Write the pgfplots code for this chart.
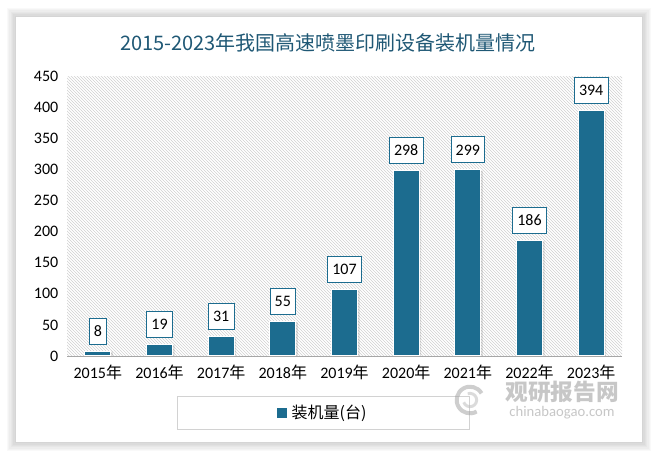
\documentclass[border=0pt]{standalone}
\usepackage{fontspec}
\setmainfont{Carlito}
\newfontfamily\cjk{Noto Sans CJK SC}
\usepackage{pgfplots}
\pgfplotsset{compat=1.18}
\usetikzlibrary{patterns.meta}
\definecolor{barblue}{RGB}{28,108,143}
\definecolor{titleblue}{RGB}{31,88,117}
\definecolor{hatch}{RGB}{208,208,208}

\begin{document}
\begin{tikzpicture}
\path[use as bounding box] (0,0) rectangle (494.25pt,-343.5pt);
\fill[white] (0,0) rectangle (494.25pt,-343.5pt);

% card with soft shadow
\foreach \d in {1,...,7}{
  \fill[black,opacity=0.022] (12pt-\d pt,-12.75pt+\d pt) rectangle (481.5pt+\d pt,-331.5pt-\d pt);
}
\fill[white] (12pt,-12.75pt) rectangle (481.5pt,-331.5pt);

% title
\node[font=\cjk\fontsize{15}{15}\selectfont, text=titleblue] at (246pt,-32.25pt)
  {2015-2023年我国高速喷墨印刷设备装机量情况};

\begin{axis}[
    at={(50.25pt,-267pt)}, anchor=south west,
    scale only axis,
    width=416.25pt, height=210pt,
    xmin=-0.5, xmax=8.5,
    ymin=0, ymax=450,
    ytick={0,50,...,450},
    xtick={0,...,8},
    xticklabels={2015{\cjk 年},2016{\cjk 年},2017{\cjk 年},2018{\cjk 年},2019{\cjk 年},
                 2020{\cjk 年},2021{\cjk 年},2022{\cjk 年},2023{\cjk 年}},
    /pgf/number format/assume math mode=true,
    tick label style={font=\fontsize{12}{12}\selectfont, text=black},
    xticklabel style={yshift=-3pt},
    yticklabel style={xshift=-3pt},
    axis line style={draw=none},
    major tick length=0pt,
    axis background/.style={fill=white, postaction={pattern={Lines[angle=-45,distance=1.59099pt,line width=0.45pt]}, pattern color=hatch}},
    ybar, bar width=19.5pt,
    clip=false,
]
% soft shadow under bars
\addplot[fill=black, opacity=0.10, draw=none, bar shift=1.5pt, forget plot]
  coordinates {(0,7) (1,18) (2,30) (3,54) (4,106) (5,297) (6,298) (7,185) (8,393)};
\addplot[fill=barblue, draw=white, line width=0.8pt,
  nodes near coords,
  every node near coord/.append style={draw=barblue, fill=white, text=black, line width=0.6pt,
     font=\fontsize{12}{12}\selectfont, inner xsep=3.5pt, inner ysep=2pt,
     minimum height=19.5pt, anchor=south, yshift=5pt}]
  coordinates {(0,8) (1,19) (2,31) (3,55) (4,107) (5,298) (6,299) (7,186) (8,394)};
\draw[gray!70, line width=0.7pt] (axis cs:-0.5,0) -- (axis cs:8.5,0);
\end{axis}

% legend
\draw[gray!35, line width=0.6pt] (132.75pt,-297pt) rectangle (351.75pt,-321.75pt);
\fill[barblue] (207.75pt,-306pt) rectangle (215.25pt,-313.5pt);
\node[anchor=west, font=\cjk\fontsize{12}{12}\selectfont, inner sep=0pt] at (218.5pt,-309.75pt) {装机量(台)};

% watermark
\begin{scope}[opacity=0.55]
\draw[gray!70, line width=3pt] (352.5pt,-300pt) ++(30:10pt) arc[start angle=30,end angle=300,radius=10pt];
\draw[gray!50, line width=2.2pt] (352.5pt,-300pt) ++(200:5pt) arc[start angle=200,end angle=470,radius=5pt];
\node[font=\cjk\bfseries\fontsize{17}{17}\selectfont, text=gray!80] at (421.5pt,-294pt) {观研报告网};
\node[font=\fontsize{11}{11}\selectfont, text=gray!80] at (421.5pt,-309.5pt) {chinabaogao.com};
\end{scope}
\end{tikzpicture}
\end{document}
